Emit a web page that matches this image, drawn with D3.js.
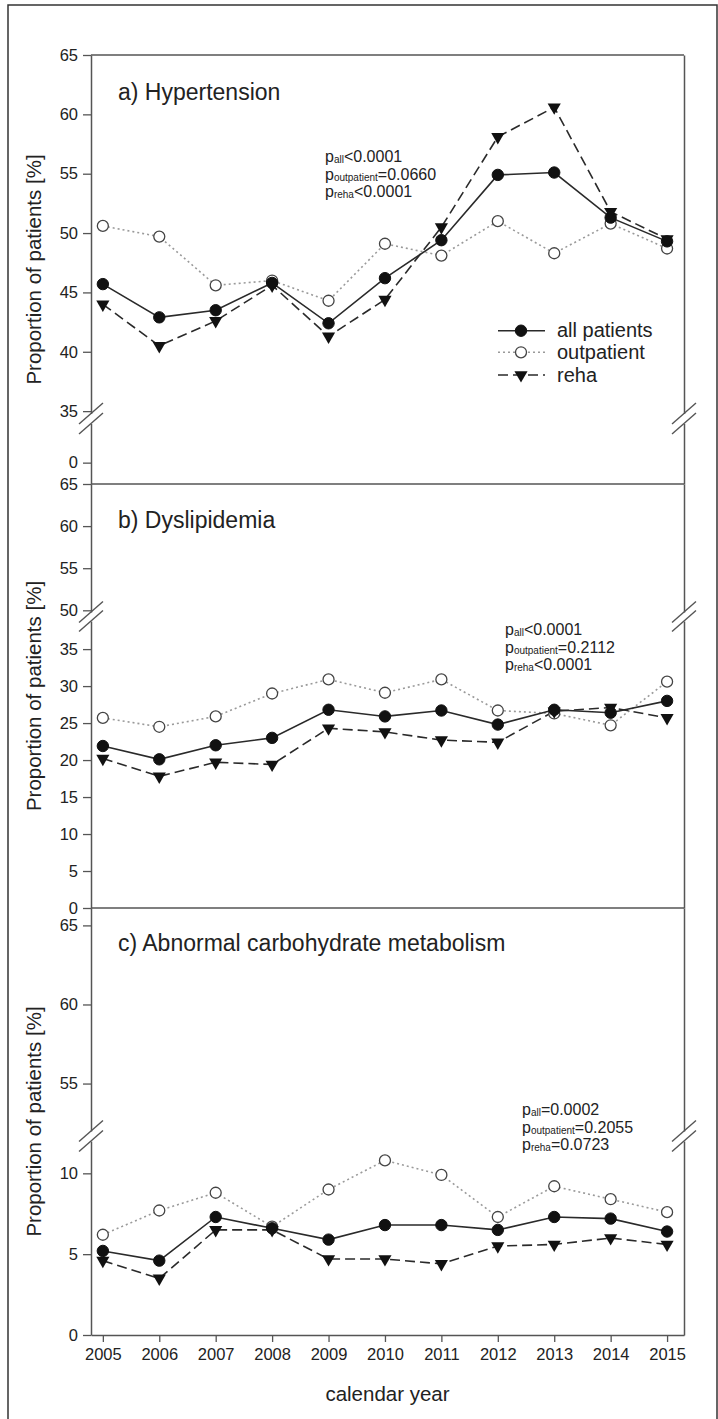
<!DOCTYPE html>
<html>
<head>
<meta charset="utf-8">
<script src="https://cdn.jsdelivr.net/npm/d3@7"></script>
<style>
body { margin: 0; background: #fff; }
text { font-family: "Liberation Sans", Arial, sans-serif; fill: #222; }
</style>
</head>
<body>
<script>
// Data
var years = [2005, 2006, 2007, 2008, 2009, 2010, 2011, 2012, 2013, 2014, 2015];
var seriesNames = ["all patients", "outpatient", "reha"];
var panelTitles = ["a) Hypertension", "b) Dyslipidemia", "c) Abnormal carbohydrate metabolism"];

var htnAll  = [45.7, 42.9, 43.5, 45.8, 42.4, 46.2, 49.4, 54.9, 55.1, 51.3, 49.3];
var htnOut  = [50.6, 49.7, 45.6, 46.0, 44.3, 49.1, 48.1, 51.0, 48.3, 50.8, 48.7];
var htnReha = [44.0, 40.5, 42.6, 45.6, 41.3, 44.4, 50.5, 58.1, 60.6, 51.8, 49.5];

var dysAll  = [21.9, 20.1, 22.0, 23.0, 26.8, 25.9, 26.7, 24.8, 26.8, 26.4, 28.0];
var dysOut  = [25.7, 24.5, 25.9, 29.0, 30.9, 29.1, 30.9, 26.7, 26.3, 24.7, 30.6];
var dysReha = [20.2, 17.8, 19.7, 19.4, 24.3, 23.8, 22.7, 22.4, 26.6, 27.1, 25.7];

var carbAll  = [5.2, 4.6, 7.3, 6.6, 5.9, 6.8, 6.8, 6.5, 7.3, 7.2, 6.4];
var carbOut  = [6.2, 7.7, 8.8, 6.7, 9.0, 10.8, 9.9, 7.3, 9.2, 8.4, 7.6];
var carbReha = [4.6, 3.5, 6.5, 6.5, 4.7, 4.7, 4.4, 5.5, 5.6, 6.0, 5.6];

// tick values per axis segment: [upper, lower]
var htnTicks  = [[35, 40, 45, 50, 55, 60, 65], [0]];
var dysTicks  = [[50, 55, 60, 65], [0, 5, 10, 15, 20, 25, 30, 35]];
var carbTicks = [[55, 60, 65], [0, 5, 10]];

var htnP  = [["all", "<0.0001"], ["outpatient", "=0.0660"], ["reha", "<0.0001"]];
var dysP  = [["all", "<0.0001"], ["outpatient", "=0.2112"], ["reha", "<0.0001"]];
var carbP = [["all", "=0.0002"], ["outpatient", "=0.2055"], ["reha", "=0.0723"]];

// Layout
var W = 718, H = 1419;
var LEFT = 91, RIGHT = 684;

var panels = [
    { title: panelTitles[0], series: [htnAll, htnOut, htnReha], ticks: htnTicks, p: htnP,
      upper: { domain: [34.8, 65], range: [413.5, 55] },
      lower: { domain: [-1.8, 3.3], range: [484, 423.5] },
      titleY: 100, pX: 325, pY: 162, legend: true },
    { title: panelTitles[1], series: [dysAll, dysOut, dysReha], ticks: dysTicks, p: dysP,
      upper: { domain: [49.8, 65], range: [612, 484] },
      lower: { domain: [0, 38.8], range: [908, 621] },
      titleY: 528, pX: 505, pY: 635 },
    { title: panelTitles[2], series: [carbAll, carbOut, carbReha], ticks: carbTicks, p: carbP,
      upper: { domain: [52, 66.1], range: [1131, 908] },
      lower: { domain: [0, 12], range: [1335, 1141] },
      titleY: 951, pX: 522, pY: 1115, xAxis: true }
];

var styles = [
    { stroke: "#2a2a2a", dash: null, marker: "filled" },
    { stroke: "#9a9a9a", dash: "2,3", marker: "open" },
    { stroke: "#2a2a2a", dash: "10,5", marker: "triangle" }
];

var svg = d3.select("body").append("svg")
    .attr("width", W)
    .attr("height", H);

// outer border
svg.append("rect")
    .attr("x", 8).attr("y", 5)
    .attr("width", 709).attr("height", H + 10)
    .attr("fill", "none")
    .attr("stroke", "#333")
    .attr("stroke-width", 1.5);

var x = d3.scaleLinear()
    .domain([2004.79, 2015.3])
    .range([LEFT, RIGHT]);

var drawMarker = function(g, type, px, py) {
    if (type === "filled") {
        g.append("circle").attr("cx", px).attr("cy", py).attr("r", 5.7)
            .attr("fill", "#111").attr("stroke", "#111");
    } else if (type === "open") {
        g.append("circle").attr("cx", px).attr("cy", py).attr("r", 5.5)
            .attr("fill", "#fff").attr("stroke", "#444").attr("stroke-width", 1.3);
    } else {
        g.append("path")
            .attr("d", d3.symbol().type(d3.symbolTriangle).size(75)())
            .attr("transform", "translate(" + px + "," + py + ") rotate(180)")
            .attr("fill", "#111");
    }
};

var drawBreak = function(g, xPos, yPos) {
    g.append("line")
        .attr("x1", xPos - 12).attr("y1", yPos + 10.5)
        .attr("x2", xPos + 12).attr("y2", yPos - 10.5)
        .attr("stroke", "#555").attr("stroke-width", 1.4);
};

var styleAxis = function(ax) {
    ax.select(".domain").attr("stroke", "#555").attr("stroke-width", 1.5);
    ax.selectAll(".tick line").attr("stroke", "#555").attr("stroke-width", 1.3);
    ax.selectAll(".tick text")
        .attr("font-size", 16.5)
        .attr("font-family", "Liberation Sans, Arial, sans-serif")
        .attr("fill", "#222");
};

panels.forEach(function(panel, pi) {
    var g = svg.append("g");
    var up = d3.scaleLinear().domain(panel.upper.domain).range(panel.upper.range);
    var lo = d3.scaleLinear().domain(panel.lower.domain).range(panel.lower.range);
    var y = function(v) { return v >= panel.upper.domain[0] ? up(v) : lo(v); };

    // left axis, two segments
    [up, lo].forEach(function(sc, si) {
        var ax = g.append("g")
            .attr("transform", "translate(" + LEFT + ",0)")
            .call(d3.axisLeft(sc).tickValues(panel.ticks[si]).tickFormat(d3.format("d"))
                .tickSize(8).tickSizeOuter(0).tickPadding(5));
        styleAxis(ax);
        var rx = g.append("g")
            .attr("transform", "translate(" + RIGHT + ",0)")
            .call(d3.axisRight(sc).tickValues([]).tickSizeOuter(0));
        styleAxis(rx);
    });

    // break marks
    [LEFT, RIGHT].forEach(function(xp) {
        drawBreak(g, xp, panel.upper.range[0]);
        drawBreak(g, xp, panel.lower.range[1]);
    });

    // horizontal frame lines
    if (pi === 0) {
        g.append("line").attr("x1", LEFT).attr("x2", RIGHT)
            .attr("y1", panel.upper.range[1]).attr("y2", panel.upper.range[1])
            .attr("stroke", "#555").attr("stroke-width", 1.5);
    }
    if (pi === 1) {
        [panel.upper.range[1], panel.lower.range[0]].forEach(function(yy) {
            g.append("line").attr("x1", LEFT).attr("x2", RIGHT)
                .attr("y1", yy).attr("y2", yy)
                .attr("stroke", "#555").attr("stroke-width", 1.5);
        });
    }

    // title
    g.append("text")
        .attr("x", 118)
        .attr("y", panel.titleY)
        .attr("font-size", 23)
        .text(panel.title);

    // y label
    var midY = (panel.upper.range[1] + panel.lower.range[0]) / 2;
    g.append("text")
        .attr("transform", "translate(41," + midY + ") rotate(-90)")
        .attr("text-anchor", "middle")
        .attr("font-size", 20.5)
        .text("Proportion of patients [%]");

    // series: outpatient first, then all, then reha
    [1, 0, 2].forEach(function(si) {
        var vals = panel.series[si];
        var st = styles[si];
        var line = d3.line()
            .x(function(d, i) { return x(years[i]); })
            .y(function(d) { return y(d); });
        g.append("path")
            .datum(vals)
            .attr("d", line)
            .attr("fill", "none")
            .attr("stroke", st.stroke)
            .attr("stroke-width", 1.6)
            .attr("stroke-dasharray", st.dash);
    });
    [1, 0, 2].forEach(function(si) {
        panel.series[si].forEach(function(v, i) {
            drawMarker(g, styles[si].marker, x(years[i]), y(v));
        });
    });

    // p values
    panel.p.forEach(function(row, ri) {
        var t = g.append("text")
            .attr("x", panel.pX)
            .attr("y", panel.pY + ri * 17.5)
            .attr("font-size", 16);
        t.append("tspan").text("p");
        t.append("tspan").attr("font-size", 10).attr("dy", 1).text(row[0]);
        t.append("tspan").attr("dy", -1).text(row[1]);
    });

    // legend
    if (panel.legend) {
        var legY = [330.7, 352.3, 375];
        seriesNames.forEach(function(name, si) {
            var st = styles[si];
            g.append("line")
                .attr("x1", 498).attr("x2", 545)
                .attr("y1", legY[si]).attr("y2", legY[si])
                .attr("stroke", st.stroke)
                .attr("stroke-width", 1.6)
                .attr("stroke-dasharray", st.dash);
            drawMarker(g, st.marker, 521, legY[si]);
            g.append("text")
                .attr("x", 557)
                .attr("y", legY[si] + 6.5)
                .attr("font-size", 20)
                .text(name);
        });
    }

    // x axis
    if (panel.xAxis) {
        var xa = g.append("g")
            .attr("transform", "translate(0," + panel.lower.range[0] + ")")
            .call(d3.axisBottom(x).tickValues(years).tickFormat(d3.format("d"))
                .tickSize(7).tickSizeOuter(0).tickPadding(6));
        styleAxis(xa);
        g.append("text")
            .attr("x", (LEFT + RIGHT) / 2)
            .attr("y", 1401)
            .attr("text-anchor", "middle")
            .attr("font-size", 20.5)
            .text("calendar year");
    }
});
</script>
</body>
</html>
